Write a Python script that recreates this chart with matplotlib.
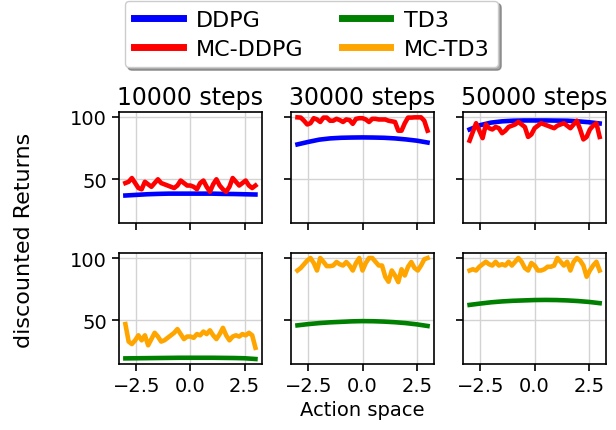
import numpy as np
import matplotlib
matplotlib.use('Agg')
import matplotlib.pyplot as plt

# step counts shown as column titles
steps = [10000, 30000, 50000]

# noisy MC curves sampled on 41 points, smooth baselines on 13 points
x_noisy = np.linspace(-3, 3, 41)
x_smooth = np.linspace(-3, 3, 13)

ddpg = [
    [37, 37.5, 38, 38.3, 38.5, 38.5, 38.5, 38.5, 38.5, 38.3, 38.2, 38, 37.8],
    [78, 80, 81.8, 82.8, 83.3, 83.5, 83.6, 83.5, 83.3, 82.8, 82, 81, 79.5],
    [90, 93.5, 95.5, 96.5, 97, 97.2, 97.2, 97.2, 97.1, 97, 96.5, 95.8, 94.8],
]
mc_ddpg = [
    [47, 48, 51, 47, 43, 42, 48, 46, 44, 47, 50, 47, 46, 45, 44, 43, 45, 49, 47, 45,
     45, 44, 42, 47, 49, 44, 40, 46, 50, 45, 42, 40, 44, 51, 48, 45, 47, 49, 45, 43, 45],
    [99.7, 99.5, 97, 94, 95, 99, 98, 96, 99.5, 99.5, 97, 97, 98.5, 97.5, 96, 98, 97.5, 94.5, 98.5, 99,
     99, 98, 96, 98.5, 98.5, 98, 98, 98, 97, 96.5, 96, 89, 89, 95, 99.5, 99.5, 99.7, 99.7, 99.7, 97, 89],
    [81, 88, 95, 89, 83, 94, 91, 90, 92, 91, 87, 89, 92, 93, 94, 96, 94, 92, 84, 86,
     91, 93, 95, 94, 93, 92, 91, 93, 94, 95, 93, 91, 94, 97, 90, 82, 84, 90, 93, 95, 84],
]
td3 = [
    [19.5, 19.6, 19.7, 19.8, 19.9, 20, 20, 20, 20, 19.9, 19.8, 19.6, 19.0],
    [46, 47, 47.8, 48.4, 48.8, 49.2, 49.4, 49.3, 49, 48.5, 47.8, 46.8, 45.5],
    [62.4, 63.5, 64.5, 65.2, 65.7, 66, 66.3, 66.4, 66.3, 66, 65.5, 64.8, 63.8],
]
mc_td3 = [
    [47, 33, 31, 34, 38, 34, 38, 30, 35, 40, 37, 33, 34, 36, 38, 40, 43, 39, 35, 37,
     37, 36, 39, 38, 41, 39, 42, 38, 35, 39, 44, 38, 34, 37, 38, 37, 39, 38, 40, 38, 28],
    [90, 92, 95, 98, 100, 96, 90, 100, 97, 93.5, 93.5, 94, 96.8, 95, 94, 96.8, 94, 90, 96, 100,
     90, 96, 100, 100, 97, 94, 94, 85, 81, 90, 86, 80.7, 91, 86, 93, 96.8, 92, 90, 94, 99, 100],
    [90, 91, 90, 93, 95, 97, 95, 94, 97, 94, 95, 94, 97, 94, 97, 100, 97, 92, 90, 96,
     94, 90, 90, 91, 93, 93, 94, 100, 97, 94, 97, 90, 97, 100, 98, 94, 85, 90, 94, 97, 90],
]

fig, axes = plt.subplots(2, 3, figsize=(6.16, 4.31), sharex=True, sharey=True)
fig.subplots_adjust(left=0.193, right=0.984, top=0.738, bottom=0.153,
                    wspace=0.203, hspace=0.27)

lw = 3.3
for i in range(3):
    top = axes[0, i]
    bot = axes[1, i]
    l1, = top.plot(x_smooth, ddpg[i], color='blue', lw=lw, label='DDPG')
    l2, = top.plot(x_noisy, mc_ddpg[i], color='red', lw=lw, label='MC-DDPG')
    l3, = bot.plot(x_smooth, td3[i], color='green', lw=lw, label='TD3')
    l4, = bot.plot(x_noisy, mc_td3[i], color='orange', lw=lw, label='MC-TD3')
    top.set_title('%d steps' % steps[i], fontsize=17)

for ax in axes.flat:
    ax.grid(True, color='#d3d3d3', lw=1)
    ax.set_yticks([50, 100])
    ax.set_xticks([-2.5, 0.0, 2.5])
    ax.tick_params(labelsize=14, width=1.2, length=5)
    for s in ax.spines.values():
        s.set_linewidth(1.2)

axes[1, 1].set_xlabel('Action space', fontsize=14)
fig.text(0.039, 0.443, 'discounted Returns', rotation=90, fontsize=16,
         ha='center', va='center')

leg = fig.legend([l1, l2, l3, l4], ['DDPG', 'MC-DDPG', 'TD3', 'MC-TD3'],
                 loc='upper center', bbox_to_anchor=(0.506, 0.996), ncol=2,
                 fontsize=16, shadow=True, borderaxespad=0, handlelength=2.2,
                 handletextpad=0.6, labelspacing=0.4, columnspacing=1.7)
for h in leg.get_lines():
    h.set_linewidth(5)

fig.savefig('out.png', dpi=100)
